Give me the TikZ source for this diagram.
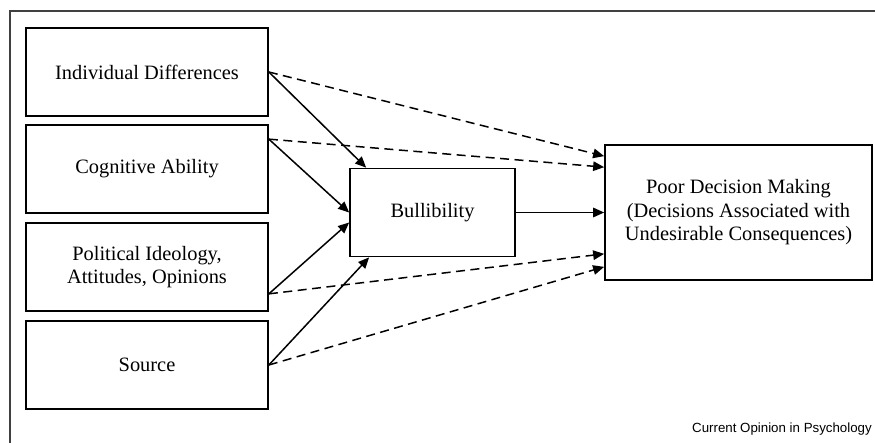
\documentclass[tikz,border=0pt]{standalone}
\usepackage{fontspec}
\setmainfont{Liberation Serif}
\setsansfont{Liberation Sans}
\usetikzlibrary{arrows.meta}

\tikzset{
	factor/.style={draw, line width=1.7pt, minimum width=242pt, minimum height=88pt, inner sep=0pt, align=center, font=\fontsize{20.4}{23.5}\selectfont},
	solidarrow/.style={line width=1.5pt, -{Triangle[length=11pt,width=9.5pt]}},
	dasharrow/.style={solidarrow, dash pattern=on 9pt off 5.5pt}
}

\begin{document}
\begin{tikzpicture}[x=1pt, y=-1pt]

\useasboundingbox (0,0) rectangle (875,443);
\draw[line width=2pt, black!75] (10,443) -- (10,11) -- (875,11);

% Factores
\node[factor] (ind) at (147,72) {Individual Differences};
\node[factor] (cog) at (147,169) {Cognitive Ability};
\node[factor] (pol) at (147,267) {Political Ideology,\\Attitudes, Opinions};
\node[factor] (src) at (147,365) {Source};

\node[factor, minimum width=165pt] (bul) at (432.5,212.5) {Bullibility};
\node[factor, minimum width=267pt, minimum height=135pt] (poor) at (738.5,212.5)
	{Poor Decision Making\\(Decisions Associated with\\Undesirable Consequences)};

% Efectos sobre la bullibility
\draw[solidarrow] (ind.east) -- ([xshift=17pt]bul.north west);
\draw[solidarrow] ([yshift=-15pt]cog.north east) -- (bul.west);
\draw[solidarrow] ([yshift=18pt]pol.south east) -- ([yshift=-10pt]bul.west);
\draw[solidarrow] (src.east) -- ([xshift=20pt]bul.south west);
\draw[solidarrow] (bul.east) -- (poor.west);

% Efectos directos
\draw[dasharrow] (ind.east) -- ([yshift=-12pt]poor.north west);
\draw[dasharrow] ([yshift=-15pt]cog.north east) -- ([yshift=-23pt]poor.north west);
\draw[dasharrow] ([yshift=18pt]pol.south east) -- ([yshift=27pt]poor.south west);
\draw[dasharrow] (src.east) -- ([yshift=14pt]poor.south west);

\node[font=\sffamily\fontsize{13.3}{15}\selectfont, anchor=base east, inner sep=0pt] (journal) at (872,432) {Current Opinion in Psychology};

\end{tikzpicture}
\end{document}
